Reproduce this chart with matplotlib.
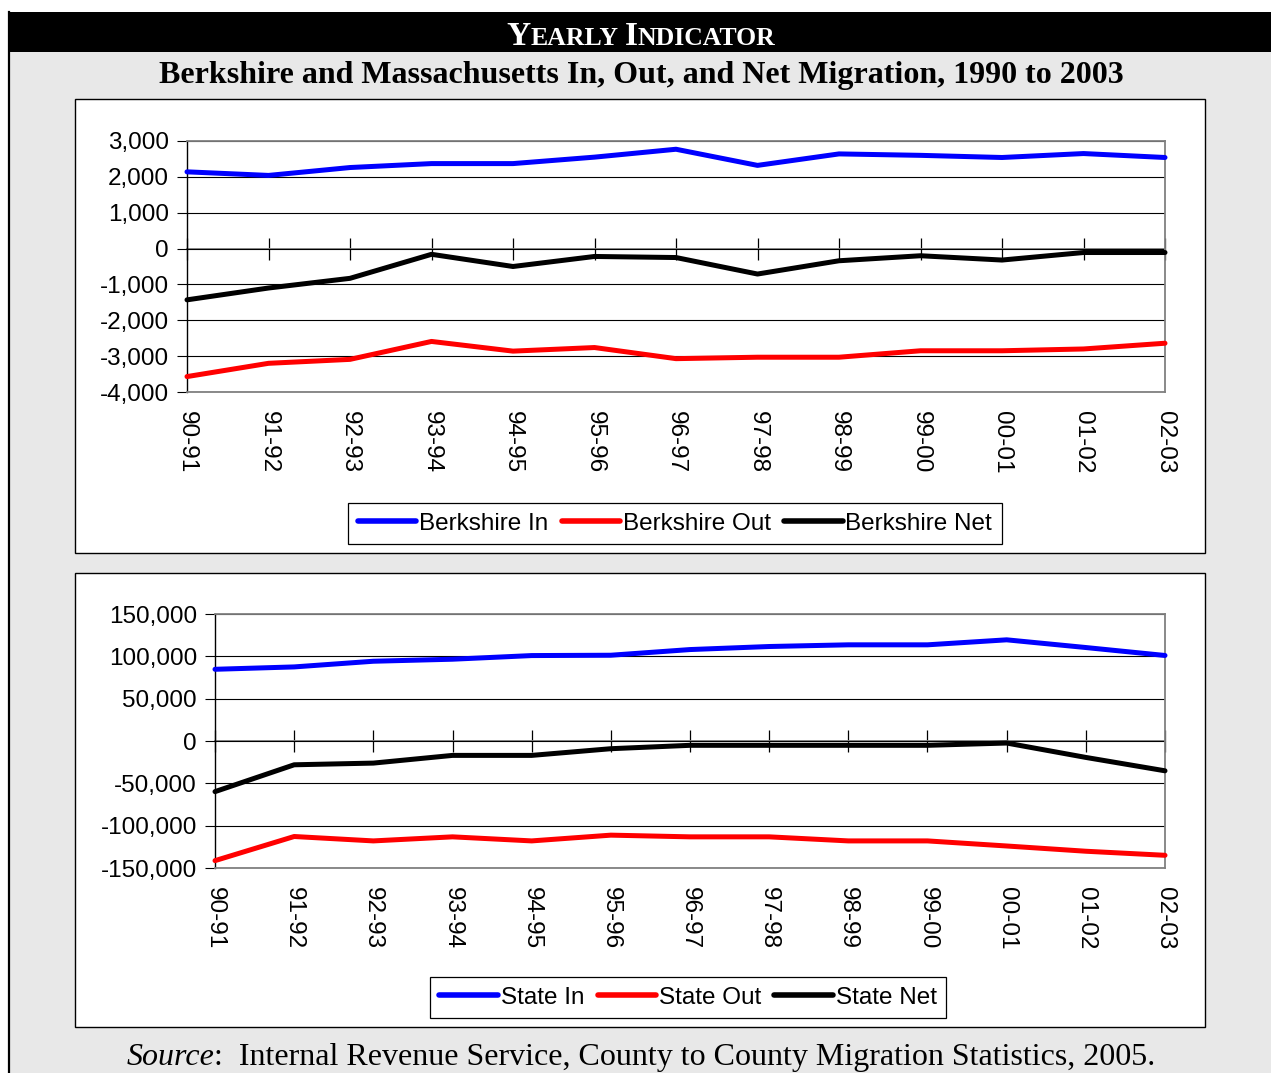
import matplotlib
matplotlib.use("Agg")
import matplotlib.pyplot as plt
from matplotlib.patches import Rectangle
from matplotlib.lines import Line2D
from matplotlib.offsetbox import TextArea, HPacker, AnnotationBbox
from matplotlib.ticker import FuncFormatter

W, H = 1271, 1073

categories = ['90-91', '91-92', '92-93', '93-94', '94-95', '95-96', '96-97',
              '97-98', '98-99', '99-00', '00-01', '01-02', '02-03']
berk_in = [2140, 2040, 2260, 2370, 2370, 2550, 2770, 2320, 2640, 2600, 2540, 2650, 2540]
berk_out = [-3570, -3200, -3090, -2590, -2860, -2760, -3070, -3030, -3030, -2850, -2850, -2800, -2640]
berk_net = [-1430, -1100, -830, -160, -500, -220, -250, -710, -340, -200, -320, -110, -110]
state_in = [84700, 87500, 94200, 96600, 100900, 101300, 108000, 111600, 113600, 113600, 119500, 110400, 101000]
state_out = [-141300, -112800, -118000, -113200, -118000, -111200, -113200, -113200, -118000, -118000, -124000, -130200, -135000]
state_net = [-59800, -28100, -26100, -17000, -17000, -9100, -5100, -5100, -5100, -5100, -2400, -19400, -35200]
berk_ticks = [3000, 2000, 1000, 0, -1000, -2000, -3000, -4000]
state_ticks = [150000, 100000, 50000, 0, -50000, -100000, -150000]

header_text = "YEARLY INDICATOR"
title_text = "Berkshire and Massachusetts In, Out, and Net Migration, 1990 to 2003"

SANS = "Liberation Sans"
SERIF = "Liberation Serif"
FS = 17.5

fig = plt.figure(figsize=(W / 100, H / 100), dpi=100, facecolor="white")


def rect(x0, y0, x1, y1):
    return [x0 / W, 1 - y1 / H, (x1 - x0) / W, (y1 - y0) / H]


def fx(x):
    return x / W


def fy(y):
    return 1 - y / H


# page background
fig.patches.append(Rectangle((fx(8), 0), 1 - fx(8), fy(12), transform=fig.transFigure,
                             facecolor="#E8E8E8", edgecolor="none", zorder=0))
fig.lines.append(Line2D([fx(9), fx(9)], [0, fy(12)], transform=fig.transFigure,
                        color="black", lw=1.6, zorder=1))
# header bar
fig.patches.append(Rectangle((fx(8), fy(52)), 1 - fx(8), fy(12) - fy(52), transform=fig.transFigure,
                             facecolor="black", edgecolor="none", zorder=1))

# chart boxes
for (x0, y0, x1, y1) in [(75, 99, 1205, 553), (75, 573, 1205, 1027)]:
    fig.patches.append(Rectangle((fx(x0), fy(y1)), fx(x1) - fx(x0), fy(y0) - fy(y1),
                                 transform=fig.transFigure, facecolor="white",
                                 edgecolor="black", lw=1.0, zorder=1))


def smallcaps(text, big, small, color, weight):
    parts = []
    for word_i, word in enumerate(text.split(" ")):
        if word_i > 0:
            parts.append(TextArea(" ", textprops=dict(fontsize=small, family=SERIF, color=color,
                                                      weight=weight)))
        parts.append(TextArea(word[0], textprops=dict(fontsize=big, family=SERIF, color=color,
                                                      weight=weight)))
        parts.append(TextArea(word[1:], textprops=dict(fontsize=small, family=SERIF, color=color,
                                                       weight=weight)))
    return HPacker(children=parts, align="baseline", pad=0, sep=0)


hdr = smallcaps(header_text, 24, 18.5, "white", "bold")
ab = AnnotationBbox(hdr, (fx(641), fy(52)), xycoords="figure fraction", box_alignment=(0.5, 0),
                    frameon=False, pad=0)
fig.add_artist(ab)

fig.text(fx(641), fy(83), title_text, ha="center", va="baseline", fontsize=23,
         family=SERIF, weight="bold", color="black")

src = HPacker(children=[
    TextArea("Source", textprops=dict(fontsize=23, family=SERIF, style="italic")),
    TextArea(":  Internal Revenue Service, County to County Migration Statistics, 2005.",
             textprops=dict(fontsize=23, family=SERIF)),
], align="baseline", pad=0, sep=0)
ab2 = AnnotationBbox(src, (fx(641), fy(1072)), xycoords="figure fraction", box_alignment=(0.5, 0),
                     frameon=False, pad=0)
fig.add_artist(ab2)


def make_chart(rect_px, series, labels, ticks, legend_center):
    ax = fig.add_axes(rect(*rect_px))
    ax.set_zorder(3)
    x = list(range(len(categories)))
    colors = ["#0000FF", "#FF0000", "#000000"]
    handles = []
    for vals, c, lab in zip(series, colors, labels):
        h, = ax.plot(x, vals, color=c, lw=3.6, solid_capstyle="round",
                     solid_joinstyle="round", label=lab, zorder=4, clip_on=False)
        handles.append(h)
    ax.set_xlim(0, len(categories) - 1)
    ax.set_ylim(min(ticks), max(ticks))
    ax.set_yticks(ticks)
    ax.yaxis.set_major_formatter(FuncFormatter(lambda v, p: f"{int(v):,}"))
    ax.set_xticks(x)
    ax.set_xticklabels(categories, rotation=-90, fontsize=FS, family=SANS)
    ax.tick_params(axis="x", length=0, pad=14)
    ax.tick_params(axis="y", length=7, width=0.8, color="black", pad=6, labelsize=FS)
    for lab in ax.get_yticklabels():
        lab.set_family(SANS)
    ax.grid(axis="y", color="black", lw=0.8)
    ax.set_axisbelow(True)
    for s in ["top", "right", "bottom"]:
        ax.spines[s].set_color("#808080")
        ax.spines[s].set_linewidth(1.3)
    ax.spines["left"].set_color("black")
    ax.spines["left"].set_linewidth(1.0)
    sec = ax.secondary_xaxis(0, transform=ax.transData)
    sec.set_xticks(x)
    sec.set_xticklabels([])
    sec.tick_params(axis="x", direction="inout", length=16, width=0.9, color="black")
    sec.spines["bottom"].set_color("#808080")
    sec.spines["bottom"].set_linewidth(1.3)
    leg = fig.legend(handles=handles, loc="center", bbox_to_anchor=legend_center, ncol=3,
                     frameon=True, fancybox=False, edgecolor="black", framealpha=1,
                     prop=dict(family=SANS, size=FS), handlelength=2.4, handletextpad=0.12,
                     columnspacing=0.55, borderpad=0.4, borderaxespad=0)
    leg.get_frame().set_linewidth(0.9)
    leg.set_zorder(5)
    for line in leg.get_lines():
        line.set_linewidth(4)
        line.set_solid_capstyle("round")
    return ax


make_chart((187, 141, 1165, 392), [berk_in, berk_out, berk_net],
           ["Berkshire In", "Berkshire Out", "Berkshire Net"], berk_ticks,
           (fx(675), fy(523.5)))
make_chart((215, 614, 1165, 868), [state_in, state_out, state_net],
           ["State In", "State Out", "State Net"], state_ticks,
           (fx(688), fy(997.5)))

fig.savefig("out.png", dpi=100, facecolor=fig.get_facecolor())
